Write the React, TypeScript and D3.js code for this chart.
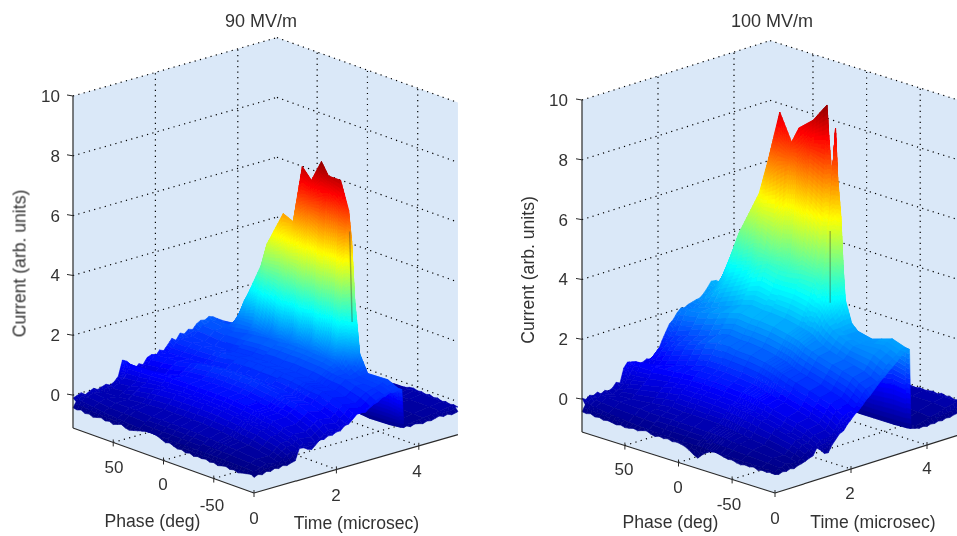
import React from "react";
import * as d3 from "d3";

// ---------- shared ticks ----------
const zTicks = [0, 2, 4, 6, 8, 10];
const phaseTicks = [-50, 0, 50];
const timeTicks = [0, 2, 4];

// ---------- 90 MV/m ----------
const timeGridA = [0.1, 0.4, 0.7, 1.0, 1.15, 1.3, 1.6, 1.9, 2.2, 2.5, 2.8, 3.05, 3.25, 3.38, 3.46, 3.53, 3.59, 3.64, 3.8, 4.2, 4.6, 4.9];
const phaseGridA = [86, 74, 64, 50, 44, 28, 18, 9, 0, -10, -17, -29, -37, -40, -43, -48, -56, -76, -86];
const currentA = [
  [-0.2, -0.1, -0.1, -0.05, 0.2, 0.5, 0.35, 0.55, 0.7, 0.85, 1.0, 1.1, 1.25, 1.2, 1.15, 1.1, 1.1, -0.2, -0.2, -0.2, -0.15, -0.15],
  [-0.25, -0.15, -0.08, 0.0, 0.22, 0.5, 0.42, 0.58, 0.72, 0.85, 0.98, 1.08, 1.18, 1.2, 1.15, 1.1, 1.15, -0.2, -0.2, -0.2, -0.15, -0.15],
  [-0.3, -0.18, -0.05, 0.1, 0.3, 0.5, 0.5, 0.6, 0.75, 0.85, 0.95, 1.05, 1.15, 1.4, 1.7, 2.0, 2.2, -0.25, -0.2, -0.2, -0.15, -0.15],
  [-0.34, -0.18, 0.0, 0.2, 0.36, 0.52, 0.62, 0.7, 0.78, 0.86, 0.98, 1.08, 1.25, 1.6, 2.2, 2.9, 3.4, -0.25, -0.2, -0.2, -0.15, -0.15],
  [-0.36, -0.18, 0.02, 0.24, 0.38, 0.54, 0.66, 0.74, 0.8, 0.88, 1.0, 1.1, 1.28, 1.75, 2.6, 3.5, 4.2, -0.25, -0.2, -0.2, -0.15, -0.15],
  [-0.4, -0.2, 0.05, 0.28, 0.42, 0.55, 0.72, 0.82, 0.88, 0.94, 1.04, 1.15, 1.35, 1.9, 3.0, 4.4, 5.4, -0.25, -0.22, -0.2, -0.15, -0.15],
  [-0.42, -0.2, 0.05, 0.3, 0.42, 0.55, 0.75, 0.85, 0.9, 0.95, 1.05, 1.15, 1.35, 1.9, 3.0, 4.3, 5.25, -0.28, -0.22, -0.2, -0.15, -0.15],
  [-0.42, -0.2, 0.05, 0.3, 0.43, 0.56, 0.76, 0.86, 0.92, 0.96, 1.06, 1.16, 1.4, 2.1, 3.6, 5.6, 7.2, -0.3, -0.25, -0.2, -0.18, -0.15],
  [-0.42, -0.2, 0.05, 0.3, 0.42, 0.55, 0.75, 0.85, 0.9, 0.95, 1.05, 1.15, 1.4, 2.1, 3.5, 5.4, 6.85, -0.3, -0.25, -0.2, -0.18, -0.15],
  [-0.43, -0.2, 0.05, 0.3, 0.42, 0.55, 0.75, 0.85, 0.9, 0.96, 1.06, 1.16, 1.4, 2.2, 3.8, 6.0, 7.6, -0.32, -0.28, -0.22, -0.18, -0.15],
  [-0.43, -0.22, 0.03, 0.28, 0.4, 0.53, 0.72, 0.82, 0.88, 0.94, 1.04, 1.14, 1.38, 2.1, 3.6, 5.6, 7.2, -0.32, -0.28, -0.22, -0.18, -0.15],
  [-0.44, -0.24, 0.0, 0.24, 0.36, 0.48, 0.66, 0.76, 0.84, 0.92, 1.02, 1.12, 1.36, 2.1, 3.6, 5.6, 7.2, -0.35, -0.3, -0.24, -0.2, -0.12],
  [-0.44, -0.26, -0.04, 0.2, 0.32, 0.44, 0.62, 0.72, 0.8, 0.88, 0.98, 1.08, 1.3, 1.9, 3.3, 5.0, 6.3, -0.38, -0.32, -0.25, -0.2, -0.12],
  [-0.44, -0.27, -0.06, 0.18, 0.3, 0.42, 0.6, 0.7, 0.78, 0.86, 0.96, 1.06, 1.24, 1.7, 2.8, 4.2, 5.3, -0.38, -0.32, -0.25, -0.2, -0.12],
  [-0.44, -0.28, -0.08, 0.16, 0.28, 0.4, 0.58, 0.68, 0.76, 0.84, 0.94, 1.04, 1.18, 1.45, 2.0, 2.8, 3.4, -0.4, -0.34, -0.25, -0.2, -0.12],
  [-0.44, -0.29, -0.1, 0.13, 0.25, 0.36, 0.54, 0.64, 0.73, 0.82, 0.92, 1.02, 1.1, 1.2, 1.3, 1.5, 1.64, -0.42, -0.35, -0.25, -0.2, -0.12],
  [-0.45, -0.3, -0.12, 0.1, 0.22, 0.32, 0.5, 0.6, 0.7, 0.8, 0.9, 1.0, 1.0, 1.05, 1.05, 1.07, 1.07, -0.45, -0.36, -0.25, -0.2, -0.12],
  [-0.46, -0.36, -0.25, -0.08, 0.05, 0.12, 0.25, 0.34, 0.46, 0.6, 0.72, 0.82, 0.95, 1.0, 1.05, 1.1, 1.1, -0.42, -0.36, -0.28, -0.2, -0.14],
  [-0.48, -0.4, -0.35, -0.25, -0.1, -0.05, 0.0, 0.12, 0.25, 0.42, 0.55, 0.65, 0.85, 0.9, 0.92, 0.94, 0.94, -0.38, -0.36, -0.3, -0.22, -0.16],
];
const rowStepA = [0, 0.07, -0.06, 0.09, -0.03, 0.06, -0.1, 0.1, -0.1, 0.1, -0.1, 0.07, 0, 0, 0, 0, 0, 0, 0, 0, 0, 0];
const wallStreakA = [0, 0, 0.1, -0.1, 0.35, -0.35, 0.45, -0.45, 0.3, -0.5, 0.45, -0.3, 0.5, 0, 0, 0, 0, 0, 0];
const backEdgeA = [-0.1, -0.05, 0.0, -0.1, -0.03, 0.03, -0.05, 0.0, 0.05, -0.02, 0.05, 0.2, 0.7, 0.62, 0.4, 0.3, 0.42, 0.35, 0.55, 0.6, 0.5, 0.68, 0.62, 0.78, 0.95, 0.85, 1.05, 0.98, 1.1, 1.05, 1.2, 1.28, 1.25, 1.33, 1.28, 1.18, 1.1];
const frontEdgeA = [-0.42, -0.45, -0.4, -0.47, -0.44, -0.5, -0.46, -0.42, -0.48, -0.44, -0.5, -0.45, -0.4, -0.47, -0.5, -0.46, -0.42, -0.38, -0.34, -0.3, -0.33, -0.36, -0.42, -0.48, -0.44, -0.5, -0.55, -0.52, -0.58, -0.54, -0.6, -0.56, -0.58, -0.55, -0.6, -0.57, -0.62, -0.58, -0.55, -0.6, -0.57, -0.62, -0.58, -0.55, -0.52, -0.5];
const sideEdgeA = [-0.58, -0.52, -0.57, -0.5, -0.54, -0.48, -0.52, -0.46, -0.5, -0.45, -0.42, -0.05, -0.06, -0.15, -0.2, -0.08, 0.05, 0.02, 0.1, 0.08, 0.15, 0.15, 0.28, 0.3, 0.42, 0.55, 0.55, 0.62, 0.68, 0.72, 0.75, 0.85, 0.88, 0.95, 0.92, 0.95, 0.94, -0.35, -0.32, -0.38, -0.33, -0.36, -0.4, -0.35, -0.38, -0.34, -0.3, -0.36, -0.32, -0.38, -0.35, -0.33];
const farEdgeA = [-0.35, -0.28, -0.15, -0.1, -0.08, -0.12, -0.1, -0.14, -0.1, -0.15, -0.12, -0.18, -0.14, -0.18, -0.15, -0.18];
const edgeTimesA = [0, 0.1, 0.2, 0.3, 0.4, 0.5, 0.6, 0.7, 0.8, 0.9, 1, 1.1, 1.2, 1.3, 1.4, 1.5, 1.6, 1.7, 1.8, 1.9, 2, 2.1, 2.2, 2.3, 2.4, 2.5, 2.6, 2.7, 2.8, 2.9, 3, 3.1, 3.2, 3.3, 3.4, 3.5, 3.59, 3.64, 3.7, 3.8, 3.9, 4, 4.1, 4.2, 4.3, 4.4, 4.5, 4.6, 4.7, 4.8, 4.9, 4.95];
const creaseA = [[3.59, -38, 5.6], [3.59, -40.5, 2.6]];

// ---------- 100 MV/m ----------
const timeGridB = [0.1, 0.4, 0.7, 1.0, 1.15, 1.3, 1.6, 1.9, 2.2, 2.5, 2.8, 3.05, 3.22, 3.32, 3.4, 3.47, 3.54, 3.58, 3.8, 4.2, 4.6, 4.9];
const phaseGridB = [86, 81, 69, 50, 41, 31, 20, 13, 0, -13, -15, -18, -21, -23, -26, -28, -30, -36, -42, -55, -74, -86];
const currentB = [
  [-0.2, -0.05, 0.0, 0.05, 0.45, 0.7, 0.6, 0.85, 1.35, 1.9, 2.05, 2.15, 2.3, 2.4, 2.5, 2.5, 2.5, -0.2, -0.2, -0.2, -0.15, -0.1],
  [-0.22, -0.08, 0.0, 0.1, 0.45, 0.72, 0.72, 0.95, 1.45, 1.95, 2.15, 2.3, 2.45, 2.6, 2.75, 2.9, 3.03, -0.2, -0.2, -0.2, -0.15, -0.1],
  [-0.28, -0.1, 0.03, 0.2, 0.5, 0.72, 0.85, 1.15, 1.6, 2.0, 2.3, 2.6, 3.0, 3.3, 3.65, 4.0, 4.37, -0.2, -0.2, -0.2, -0.15, -0.1],
  [-0.35, -0.12, 0.1, 0.35, 0.6, 0.78, 1.05, 1.4, 1.8, 2.2, 2.55, 2.95, 3.4, 3.9, 4.6, 5.3, 5.92, -0.25, -0.2, -0.2, -0.15, -0.1],
  [-0.38, -0.14, 0.15, 0.45, 0.65, 0.82, 1.15, 1.55, 1.95, 2.3, 2.7, 3.15, 3.7, 4.3, 5.2, 6.2, 7.23, -0.25, -0.2, -0.2, -0.15, -0.1],
  [-0.4, -0.15, 0.18, 0.5, 0.7, 0.85, 1.25, 1.65, 2.05, 2.4, 2.8, 3.3, 3.9, 4.7, 5.9, 7.3, 8.84, -0.25, -0.22, -0.2, -0.15, -0.1],
  [-0.42, -0.15, 0.15, 0.5, 0.7, 0.85, 1.25, 1.65, 2.0, 2.35, 2.75, 3.2, 3.8, 4.5, 5.5, 6.7, 7.96, -0.28, -0.22, -0.2, -0.15, -0.1],
  [-0.42, -0.15, 0.15, 0.5, 0.7, 0.85, 1.25, 1.6, 2.0, 2.35, 2.75, 3.2, 3.8, 4.6, 5.7, 7.0, 8.52, -0.3, -0.25, -0.2, -0.15, -0.1],
  [-0.43, -0.16, 0.14, 0.48, 0.68, 0.83, 1.2, 1.58, 1.95, 2.3, 2.7, 3.2, 3.9, 4.7, 5.9, 7.4, 8.92, -0.3, -0.25, -0.2, -0.15, -0.1],
  [-0.43, -0.17, 0.12, 0.45, 0.65, 0.8, 1.15, 1.5, 1.85, 2.2, 2.6, 3.1, 3.9, 4.9, 6.3, 8.0, 9.58, -0.32, -0.28, -0.2, -0.15, -0.1],
  [-0.43, -0.17, 0.12, 0.45, 0.65, 0.8, 1.14, 1.48, 1.83, 2.18, 2.58, 3.05, 3.8, 4.7, 5.9, 7.3, 8.43, -0.32, -0.28, -0.2, -0.15, -0.1],
  [-0.43, -0.18, 0.1, 0.43, 0.62, 0.78, 1.1, 1.45, 1.8, 2.15, 2.55, 3.0, 3.7, 4.3, 5.2, 6.2, 7.12, -0.32, -0.28, -0.2, -0.15, -0.1],
  [-0.44, -0.18, 0.1, 0.42, 0.6, 0.76, 1.08, 1.42, 1.78, 2.12, 2.52, 3.0, 3.8, 4.8, 6.0, 7.5, 8.9, -0.34, -0.3, -0.22, -0.15, -0.1],
  [-0.44, -0.2, 0.08, 0.4, 0.58, 0.74, 1.05, 1.4, 1.75, 2.1, 2.5, 2.95, 3.6, 4.2, 5.1, 6.2, 7.28, -0.34, -0.3, -0.22, -0.15, -0.1],
  [-0.44, -0.2, 0.06, 0.38, 0.56, 0.72, 1.02, 1.36, 1.7, 2.05, 2.45, 2.85, 3.3, 3.8, 4.5, 5.2, 6.0, -0.36, -0.3, -0.22, -0.15, -0.1],
  [-0.44, -0.22, 0.04, 0.36, 0.54, 0.7, 1.0, 1.32, 1.66, 2.0, 2.4, 2.7, 3.05, 3.3, 3.7, 4.0, 4.4, -0.36, -0.3, -0.22, -0.15, -0.1],
  [-0.44, -0.22, 0.02, 0.34, 0.52, 0.68, 0.98, 1.3, 1.62, 1.96, 2.32, 2.6, 2.8, 2.9, 3.0, 3.15, 3.27, -0.38, -0.32, -0.22, -0.15, -0.1],
  [-0.44, -0.24, 0.0, 0.3, 0.48, 0.62, 0.92, 1.22, 1.55, 1.88, 2.2, 2.42, 2.5, 2.52, 2.54, 2.55, 2.55, -0.4, -0.34, -0.22, -0.12, -0.05],
  [-0.45, -0.26, -0.04, 0.25, 0.42, 0.56, 0.86, 1.15, 1.48, 1.8, 2.1, 2.3, 2.33, 2.34, 2.34, 2.34, 2.34, -0.42, -0.36, -0.22, -0.1, -0.03],
  [-0.46, -0.3, -0.1, 0.15, 0.3, 0.44, 0.72, 1.02, 1.35, 1.66, 1.95, 2.1, 2.18, 2.2, 2.22, 2.23, 2.23, -0.42, -0.38, -0.22, -0.1, -0.03],
  [-0.47, -0.36, -0.22, -0.02, 0.12, 0.24, 0.5, 0.8, 1.12, 1.45, 1.78, 2.02, 2.22, 2.32, 2.4, 2.45, 2.45, -0.42, -0.42, -0.25, -0.1, -0.03],
  [-0.48, -0.42, -0.34, -0.2, -0.05, 0.02, 0.25, 0.55, 0.88, 1.2, 1.55, 1.82, 2.05, 2.15, 2.25, 2.3, 2.3, -0.4, -0.44, -0.3, -0.15, -0.05],
];
const rowStepB = [0, 0.08, -0.07, 0.1, -0.04, 0.07, -0.12, 0.12, -0.12, 0.12, -0.12, 0.08, 0, 0, 0, 0, 0, 0, 0, 0, 0, 0];
const wallStreakB = [0, 0, 0.1, -0.3, 0.3, -0.4, 0.5, -0.5, 0.4, -0.4, 0, 0, 0, 0, 0, 0, 0, 0, 0, 0, 0, 0];
const backEdgeB = [0.03, -0.05, 0.05, 0.0, 0.07, -0.02, 0.05, 0.0, 0.05, 0.2, 0.14, 0.6, 0.76, 0.72, 0.66, 0.56, 0.6, 0.66, 0.62, 0.72, 0.8, 1.1, 1.35, 1.59, 1.7, 1.88, 2.0, 1.98, 2.05, 2.08, 2.12, 2.14, 2.25, 2.4, 2.58, 2.56, 2.55];
const frontEdgeB = [-0.42, -0.44, -0.4, -0.46, -0.43, -0.48, -0.45, -0.47, -0.5, -0.46, -0.5, -0.48, -0.44, -0.47, -0.42, -0.38, -0.44, -0.48, -0.43, -0.46, -0.42, -0.47, -0.44, -0.46, -0.5, -0.58, -0.68, -0.75, -0.6, -0.48, -0.4, -0.37, -0.4, -0.44, -0.47, -0.45, -0.5, -0.52, -0.48, -0.5, -0.46, -0.52, -0.48, -0.5, -0.46, -0.48];
const sideEdgeB = [-0.48, -0.52, -0.47, -0.5, -0.45, -0.49, -0.43, -0.4, -0.36, -0.3, -0.26, -0.04, -0.15, -0.3, -0.32, -0.1, 0.05, 0.2, 0.25, 0.42, 0.55, 0.68, 0.77, 0.9, 1.05, 1.15, 1.28, 1.42, 1.55, 1.65, 1.78, 1.88, 2.0, 2.12, 2.25, 2.3, 2.28, -0.38, -0.42, -0.46, -0.44, -0.48, -0.44, -0.46, -0.42, -0.45, -0.4, -0.42, -0.38, -0.36, -0.34, -0.35];
const farEdgeB = [-0.35, -0.3, -0.1, -0.04, -0.06, -0.02, -0.05, -0.03, 0.0, -0.04, 0.02, -0.02, 0.0, -0.05, -0.02, -0.05];
const edgeTimesB = [0, 0.1, 0.2, 0.3, 0.4, 0.5, 0.6, 0.7, 0.8, 0.9, 1, 1.1, 1.2, 1.3, 1.4, 1.5, 1.6, 1.7, 1.8, 1.9, 2, 2.1, 2.2, 2.3, 2.4, 2.5, 2.6, 2.7, 2.8, 2.9, 3, 3.1, 3.2, 3.3, 3.4, 3.5, 3.54, 3.58, 3.7, 3.8, 3.9, 4, 4.1, 4.2, 4.3, 4.4, 4.5, 4.6, 4.7, 4.8, 4.9, 4.95];
const creaseB = [[3.54, -16, 5.4], [3.54, -16, 3.0]];

const panels = [
  {
    title: "90 MV/m", titleX: 261, ox: 254, oy: 493, tvx: 41.2, tvy: -11.8, pw: -181, ph: -65, zTop: -332, zLabelX: 60, cmax: 7.7,
    times: timeGridA, phases: phaseGridA, z: currentA, rowStep: rowStepA, streak: wallStreakA, crease: creaseA, back: backEdgeA, front: frontEdgeA, side: sideEdgeA, far: farEdgeA, edgeTimes: edgeTimesA,
    phaseLabel: [[50, 114, 473], [0, 163, 490], [-50, 212, 511]],
    timeLabel: [[0, 254, 524], [2, 336, 501], [4, 417, 477]],
    phaseTitle: [152.5, 527], timeTitle: [356.5, 529], currentTitle: [25.5, 263.5],
  },
  {
    title: "100 MV/m", titleX: 772, ox: 775, oy: 493, tvx: 38, tvy: -12, pw: -193, ph: -61, zTop: -332, zLabelX: 568, cmax: 9.7,
    times: timeGridB, phases: phaseGridB, z: currentB, rowStep: rowStepB, streak: wallStreakB, crease: creaseB, back: backEdgeB, front: frontEdgeB, side: sideEdgeB, far: farEdgeB, edgeTimes: edgeTimesB,
    phaseLabel: [[50, 624, 475], [0, 678, 493], [-50, 729, 510]],
    timeLabel: [[0, 775, 524], [2, 850, 499], [4, 927, 474]],
    phaseTitle: [670.5, 528], timeTitle: [873, 528], currentTitle: [534, 270],
  },
];

const T_MAX = 4.95;
const Z_MIN = -1.1;
const Z_MAX = 10;
const FONT = "'Liberation Sans', Arial, sans-serif";
const GRID = { stroke: "#000", strokeWidth: 1.2, strokeDasharray: "1.2 4.3" };

type V = [number, number, number];

function Panel({ p }: { p: (typeof panels)[number] }) {
  const tx = d3.scaleLinear().domain([0, 1]).range([0, p.tvx]);
  const ty = d3.scaleLinear().domain([0, 1]).range([0, p.tvy]);
  const px = d3.scaleLinear().domain([-90, 90]).range([0, p.pw]);
  const py = d3.scaleLinear().domain([-90, 90]).range([0, p.ph]);
  const zy = d3.scaleLinear().domain([Z_MIN, Z_MAX]).range([0, p.zTop]);
  const P = (t: number, ph: number, z: number): [number, number] => [p.ox + tx(t) + px(ph), p.oy + ty(t) + py(ph) + zy(z)];
  const cmin = -0.5;
  const span = p.cmax - cmin;
  const jet = d3
    .scaleLinear<string>()
    .domain([0, 0.125, 0.375, 0.625, 0.875, 1].map((f) => cmin + f * span))
    .range(["#000080", "#0000ff", "#00ffff", "#ffff00", "#ff0000", "#800000"])
    .clamp(true);

  const Z = p.z.map((row, i) =>
    row.map((v, j) => v + p.rowStep[j] + (j >= 13 && j <= 15 ? p.streak[i] : 0))
  );

  const polys: { d: string; c: string }[] = [];
  const line = d3.line();
  const addQuad = (a: V, b: V, c: V, d: V) => {
    const STEP = span / 60;
    const n = Math.min(30, Math.max(1, Math.ceil(Math.max(Math.abs(a[2] - b[2]), Math.abs(d[2] - c[2])) / STEP)));
    const m = Math.min(40, Math.max(1, Math.ceil(Math.max(Math.abs(a[2] - d[2]), Math.abs(b[2] - c[2])) / STEP)));
    const at = (u: number, v: number): V =>
      [0, 1, 2].map((k) => (a[k] * (1 - u) + b[k] * u) * (1 - v) + (d[k] * (1 - u) + c[k] * u) * v) as V;
    for (let i = 0; i < n; i++) {
      for (let j = 0; j < m; j++) {
        const q = [at(i / n, j / m), at((i + 1) / n, j / m), at((i + 1) / n, (j + 1) / m), at(i / n, (j + 1) / m)];
        const zm = d3.mean(q, (v) => v[2]) as number;
        polys.push({ d: (line(q.map((v) => P(v[0], v[1], v[2]))) as string) + "Z", c: jet(zm) });
      }
    }
  };

  const rowAt = (i: number) => d3.scaleLinear().domain(p.times).range(Z[i]).clamp(true);
  const colAt = (j: number) =>
    d3
      .scaleLinear()
      .domain(p.phases)
      .range(Z.map((r) => r[j]))
      .clamp(true);

  const nT = p.times.length;
  const farPhases = p.far.map((_, i) => -30 - (60 * i) / (p.far.length - 1));
  const farCol = colAt(nT - 1);
  for (let i = 0; i < p.far.length - 1; i++) {
    addQuad(
      [T_MAX, farPhases[i], p.far[i]],
      [T_MAX, farPhases[i + 1], p.far[i + 1]],
      [p.times[nT - 1], farPhases[i + 1], farCol(farPhases[i + 1])],
      [p.times[nT - 1], farPhases[i], farCol(farPhases[i])]
    );
  }
  const RIDGE = 16;
  const backT = p.edgeTimes.slice(0, p.back.length);
  const backRow = rowAt(0);
  for (let j = nT - 2; j >= 0; j--) {
    if (j === RIDGE - 1) {
      for (let i = 0; i < p.back.length - 1; i++) {
        addQuad(
          [backT[i], 90, p.back[i]],
          [backT[i + 1], 90, p.back[i + 1]],
          [backT[i + 1], p.phases[0], backRow(backT[i + 1])],
          [backT[i], p.phases[0], backRow(backT[i])]
        );
      }
    }
    for (let i = 0; i < p.phases.length - 1; i++) {
      addQuad(
        [p.times[j + 1], p.phases[i], Z[i][j + 1]],
        [p.times[j], p.phases[i], Z[i][j]],
        [p.times[j], p.phases[i + 1], Z[i + 1][j]],
        [p.times[j + 1], p.phases[i + 1], Z[i + 1][j + 1]]
      );
    }
  }
  const lastRow = rowAt(p.phases.length - 1);
  const sideLast = p.phases[p.phases.length - 1];
  for (let i = p.side.length - 2; i >= 0; i--) {
    const t0 = p.edgeTimes[i];
    const t1 = p.edgeTimes[i + 1];
    addQuad([t1, sideLast, lastRow(t1)], [t0, sideLast, lastRow(t0)], [t0, -90, p.side[i]], [t1, -90, p.side[i + 1]]);
  }
  const firstCol = colAt(0);
  const fPh = p.front.map((_, i) => 90 - (180 * i) / (p.front.length - 1));
  for (let i = 0; i < p.front.length - 1; i++) {
    addQuad([p.times[0], fPh[i], firstCol(fPh[i])], [p.times[0], fPh[i + 1], firstCol(fPh[i + 1])], [0, fPh[i + 1], p.front[i + 1]], [0, fPh[i], p.front[i]]);
  }

  const c = (t: number, ph: number, z: number) => P(t, ph, z).join(",");
  const wallPts = [
    [0, 90, Z_MIN], [0, 90, Z_MAX], [T_MAX, 90, Z_MAX], [T_MAX, -90, Z_MAX], [T_MAX, -90, Z_MIN], [0, -90, Z_MIN],
  ].map((v) => c(v[0], v[1], v[2])).join(" ");
  const seg = (a: V, b: V) => {
    const A = P(a[0], a[1], a[2]);
    const B = P(b[0], b[1], b[2]);
    return { x1: A[0], y1: A[1], x2: B[0], y2: B[1] };
  };
  const text = { fontFamily: FONT, fill: "#333" };
  const AX = "#2a2a2a";
  return (
    <g filter="url(#soft)">
      <polygon points={wallPts} fill="#dae8f8" />
      {zTicks.map((z) => (
        <g key={z}>
          <line {...seg([0, 90, z], [T_MAX, 90, z])} {...GRID} />
          <line {...seg([T_MAX, 90, z], [T_MAX, -90, z])} {...GRID} />
        </g>
      ))}
      {timeTicks.slice(1).map((t) => (
        <g key={t}>
          <line {...seg([t, 90, Z_MIN], [t, 90, Z_MAX])} {...GRID} />
          <line {...seg([t, 90, Z_MIN], [t, -90, Z_MIN])} {...GRID} />
        </g>
      ))}
      {phaseTicks.map((ph) => (
        <g key={ph}>
          <line {...seg([T_MAX, ph, Z_MIN], [T_MAX, ph, Z_MAX])} {...GRID} />
          <line {...seg([0, ph, Z_MIN], [T_MAX, ph, Z_MIN])} {...GRID} />
        </g>
      ))}
      <g>
        {polys.map((q, i) => (
          <path key={i} d={q.d} fill={q.c} stroke={q.c} strokeWidth={0.6} />
        ))}
      </g>
      <line {...seg(p.crease[0] as V, p.crease[1] as V)} stroke="#3a3a30" strokeOpacity={0.38} strokeWidth={1.4} />
      <line {...seg([0, 90, Z_MIN], [0, 90, Z_MAX])} stroke={AX} strokeWidth={1.2} />
      <line {...seg([0, 90, Z_MIN], [0, -90, Z_MIN])} stroke={AX} strokeWidth={1.2} />
      <line {...seg([0, -90, Z_MIN], [T_MAX, -90, Z_MIN])} stroke={AX} strokeWidth={1.2} />
      {zTicks.map((z) => {
        const [x, y] = P(0, 90, z);
        return (
          <g key={z}>
            <line x1={x - 6} y1={y - 1} x2={x} y2={y} stroke={AX} strokeWidth={1} />
            <text x={p.zLabelX} y={y + 6} textAnchor="end" fontSize={17} {...text}>{z}</text>
          </g>
        );
      })}
      {phaseTicks.map((ph) => {
        const [x, y] = P(0, ph, Z_MIN);
        return <line key={ph} x1={x} y1={y - 3} x2={x} y2={y + 4} stroke={AX} strokeWidth={1} />;
      })}
      {timeTicks.map((t) => {
        const [x, y] = P(t, -90, Z_MIN);
        return <line key={t} x1={x} y1={y - 3} x2={x} y2={y + 4} stroke={AX} strokeWidth={1} />;
      })}
      {p.phaseLabel.map((l) => (
        <text key={l[0]} x={l[1]} y={l[2]} textAnchor="middle" fontSize={17} {...text}>{l[0]}</text>
      ))}
      {p.timeLabel.map((l) => (
        <text key={l[0]} x={l[1]} y={l[2]} textAnchor="middle" fontSize={17} {...text}>{l[0]}</text>
      ))}
      <text x={p.titleX} y={27} textAnchor="middle" fontSize={18} {...text}>{p.title}</text>
      <text x={p.phaseTitle[0]} y={p.phaseTitle[1]} textAnchor="middle" fontSize={17.6} {...text}>Phase (deg)</text>
      <text x={p.timeTitle[0]} y={p.timeTitle[1]} textAnchor="middle" fontSize={17.6} {...text}>Time (microsec)</text>
      <text transform={`translate(${p.currentTitle[0]},${p.currentTitle[1]}) rotate(-90)`} textAnchor="middle" fontSize={17.6} {...text}>Current (arb. units)</text>
    </g>
  );
}

export default function App() {
  return (
    <svg width={957} height={536} style={{ position: "absolute", left: 0, top: 0, display: "block", background: "#fff" }}>
      <defs>
        <filter id="soft" x="-5%" y="-5%" width="110%" height="110%">
          <feGaussianBlur stdDeviation={0.45} />
        </filter>
      </defs>
      {panels.map((p) => (
        <Panel key={p.title} p={p} />
      ))}
    </svg>
  );
}
